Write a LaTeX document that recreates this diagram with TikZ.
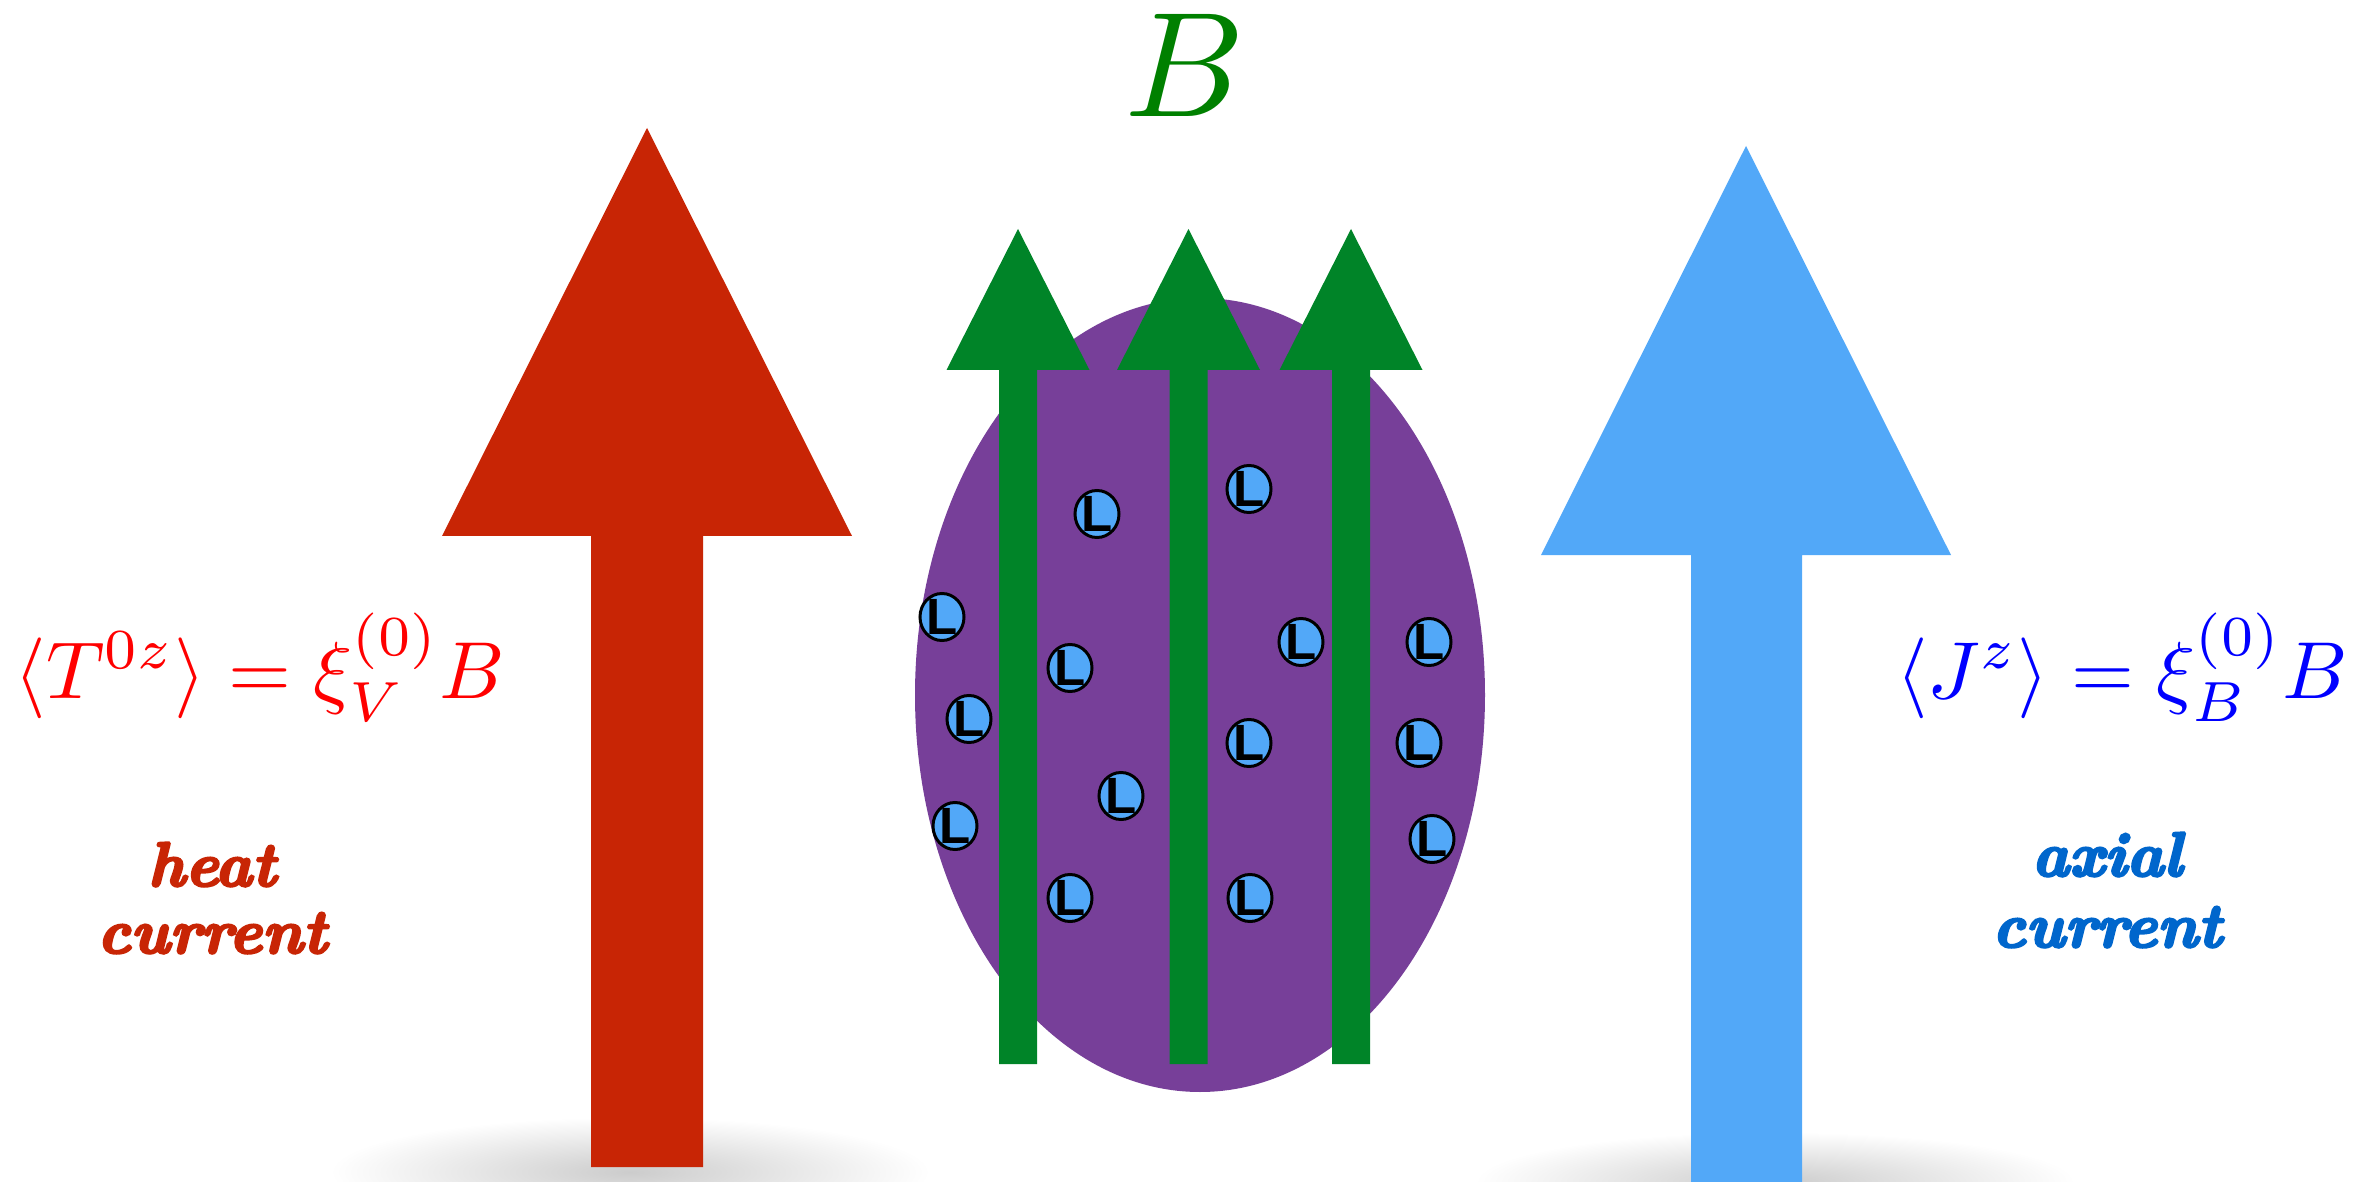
\documentclass[tikz,border=0pt]{standalone}
\usepackage{amsmath}
\usepackage{fontspec}
\newfontfamily\heavyfont{Latin Modern Roman}[BoldItalicFeatures={FakeBold=4}]
\newfontfamily\lfont{Liberation Sans}
\usetikzlibrary{shapes.geometric}
\definecolor{redarrow}{RGB}{200,37,5}
\definecolor{bluearrow}{RGB}{82,168,248}
\definecolor{purpleblob}{RGB}{119,63,153}
\definecolor{greenarrow}{RGB}{0,132,40}
\definecolor{greenB}{RGB}{0,128,0}
\definecolor{axialblue}{RGB}{0,102,204}
\tikzset{
  lcirc/.style={ellipse, draw=black, line width=0.85pt, fill=bluearrow,
    minimum width=0.44cm, minimum height=0.47cm, inner sep=0pt,
    label={[font=\lfont\bfseries\fontsize{14.5}{15}\selectfont, inner sep=0pt]center:L}},
  formula/.style={inner sep=0pt, anchor=base},
  word/.style={font=\heavyfont\fontsize{17.8}{20}\selectfont\bfseries\itshape, inner sep=0pt, anchor=base},
  garrow/.style={fill=greenarrow, draw=none},
}
\begin{document}
\begin{tikzpicture}[x=0.01cm, y=-0.01cm]
\useasboundingbox (0,0) rectangle (2359,1182);
\fill[white] (0,0) rectangle (2359,1182);
% shadows
\shade[inner color=black!20, outer color=white] (630,1172) ellipse (300 and 55);
\shade[inner color=black!20, outer color=white] (1775,1182) ellipse (300 and 50);
% big red arrow
\fill[redarrow] (591,1167) -- (591,536) -- (442,536) -- (647,128) -- (852,536) -- (703,536) -- (703,1167) -- cycle;
% big blue arrow
\fill[bluearrow] (1691,1190) -- (1691,555) -- (1541,555) -- (1746,146) -- (1951,555) -- (1802,555) -- (1802,1190) -- cycle;
% purple blob
\fill[purpleblob] (1200,695) ellipse (285 and 397);
% green arrows
\foreach \cx in {1018,1188.5,1351}{
  \fill[garrow] (\cx-19,1064) -- (\cx-19,370) -- (\cx-71.5,370) -- (\cx,229) -- (\cx+71.5,370) -- (\cx+19,370) -- (\cx+19,1064) -- cycle;
}
% L particles
\node[lcirc] (L1) at (1097,514) {};
\node[lcirc] (L2) at (1249,489) {};
\node[lcirc] (L3) at (942,617) {};
\node[lcirc] (L4) at (1070,668) {};
\node[lcirc] (L5) at (1301,642) {};
\node[lcirc] (L6) at (1429,642) {};
\node[lcirc] (L7) at (969,719) {};
\node[lcirc] (L8) at (1249,743) {};
\node[lcirc] (L9) at (1419,743) {};
\node[lcirc] (L10) at (1121,796) {};
\node[lcirc] (L11) at (955,826) {};
\node[lcirc] (L12) at (1432,839) {};
\node[lcirc] (L13) at (1070,898) {};
\node[lcirc] (L14) at (1250,898) {};
% labels
\node[text=greenB, inner sep=0pt, anchor=base] (Blabel) at (1185,117) {\scalebox{4.25}{$B$}};
\node[formula, text=red] (Tlabel) at (260,698) {\scalebox{2.3}{$\langle T^{0z}\rangle = \xi_V^{(0)}B$}};
\node[formula, text=blue] (Jlabel) at (2122,698) {\scalebox{2.3}{$\langle J^{z}\rangle = \xi_B^{(0)}B$}};
\node[word, text=redarrow] (heat) at (212,886) {heat};
\node[word, text=redarrow] (heatcur) at (212,953) {current};
\node[word, text=axialblue] (axial) at (2107,876) {axial};
\node[word, text=axialblue] (axialcur) at (2107,947) {current};
\end{tikzpicture}
\end{document}
